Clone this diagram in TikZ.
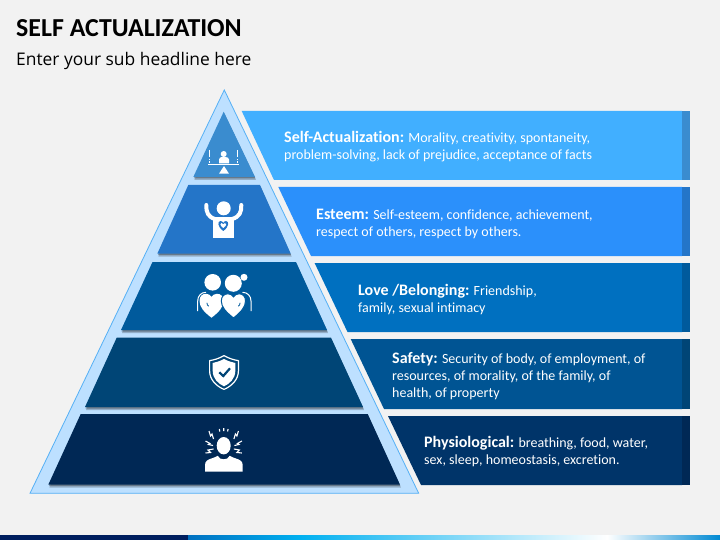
\documentclass[tikz,border=0pt]{standalone}
\usepackage{fontspec}
\setmainfont{Carlito}[Ligatures=NoCommon]
\newfontfamily\headfont{Open Sans}
\usetikzlibrary{shadows}
\newcommand{\tierhead}[1]{{\fontsize{16}{17}\selectfont\bfseries #1}}
\definecolor{pagebg}{HTML}{F2F2F2}
\definecolor{pyrfill}{HTML}{BDE0FF}
\definecolor{pyrline}{HTML}{55B0F5}
\definecolor{tierA}{HTML}{3A8CCF}
\definecolor{tierB}{HTML}{2475C8}
\definecolor{tierC}{HTML}{005A9C}
\definecolor{tierD}{HTML}{004576}
\definecolor{tierE}{HTML}{002855}
\definecolor{bandA}{HTML}{41AFFF}
\definecolor{bandB}{HTML}{2B90FB}
\definecolor{bandC}{HTML}{0070C0}
\definecolor{bandD}{HTML}{005493}
\definecolor{bandE}{HTML}{003469}
\definecolor{barA}{HTML}{001F5F}
\definecolor{barB}{HTML}{0070C0}
\definecolor{barC}{HTML}{00B0F0}
\begin{document}
\begin{tikzpicture}[x=1pt, y=-1pt,
        tier/.style={drop shadow={shadow xshift=1pt, shadow yshift=-3pt, fill=black, opacity=.22},
                drop shadow={shadow xshift=.5pt, shadow yshift=-1.5pt, fill=black, opacity=.3}},
        info/.style={anchor=north west, align=left, inner sep=0pt, text=white,
                font=\fontsize{14}{17}\selectfont},
        icon/.style={fill=white, draw=none},
        stroke/.style={draw=white, line width=#1, line cap=round, line join=round}]
        \useasboundingbox (0,0) rectangle (720,540);
        \fill[pagebg] (0,0) rectangle (720,540);

        \node (title) [anchor=base west, inner sep=0pt, font=\bfseries\fontsize{25.9}{30}\selectfont, text=black] at (16,36.5) {SELF ACTUALIZATION};
        \node (subtitle) [anchor=base west, inner sep=0pt, font=\headfont\fontsize{17.4}{21}\selectfont, text=black] at (16,66) {Enter your sub headline here};

        \fill[bandA] (241.7,111) -- (682,111) -- (682,180) -- (274,180) -- cycle;
        \fill[tierA] (682,111) rectangle (690,180);
        \fill[bandB] (278.3,187) -- (682,187) -- (682,256) -- (311,256) -- cycle;
        \fill[tierB] (682,187) rectangle (690,256);
        \fill[bandC] (314.6,263) -- (682,263) -- (682,332) -- (347.5,332) -- cycle;
        \fill[tierC] (682,263) rectangle (690,332);
        \fill[bandD] (350.7,339) -- (682,339) -- (682,409) -- (384,409) -- cycle;
        \fill[tierD] (682,339) rectangle (690,409);
        \fill[bandE] (388,416) -- (682,416) -- (682,485) -- (421,485) -- cycle;
        \fill[tierE] (682,416) rectangle (690,485);

        \filldraw[fill=pyrfill, draw=pyrline, line width=.8pt] (224.3,90) -- (418.7,493.3) -- (30,493.3) -- cycle;

        \fill[tierA, tier] (223.7,111.7) -- (255,177) -- (193.3,177) -- cycle;
        \fill[tierB, tier] (188.3,185) -- (260,185) -- (290.7,253.7) -- (157.3,253.7) -- cycle;
        \fill[tierC, tier] (152.5,262) -- (296,262) -- (327,330) -- (121,330) -- cycle;
        \fill[tierD, tier] (116.7,337.7) -- (331,337.7) -- (363,407) -- (85,407) -- cycle;
        \fill[tierE, tier] (80.7,414) -- (367.7,414) -- (400,484.7) -- (48.3,484.7) -- cycle;

        \fill[barA] (0,535) rectangle (188,540);
        \shade[left color=barB, right color=barC] (188,535) rectangle (300,540);
        \shade[left color=barC, right color=white] (300,535) rectangle (607,540);
        \shade[left color=white, right color=barB!60!barC] (607,535) rectangle (720,540);

        \node (selfact) [info] at (284,131) {\tierhead{Self-Actualization:} Morality, creativity, spontaneity,\\problem-solving, lack of prejudice, acceptance of facts};
        \node (esteem) [info] at (316,208.5) {\tierhead{Esteem:} Self-esteem, confidence, achievement,\\respect of others, respect by others.};
        \node (love) [info] at (358,284) {\tierhead{Love /Belonging:} Friendship,\\family, sexual intimacy};
        \node (safety) [info] at (392,352.5) {\tierhead{Safety:} Security of body, of employment, of\\resources, of morality, of the family, of\\health, of property};
        \node (physio) [info] at (424,436) {\tierhead{Physiological:} breathing, food, water,\\sex, sleep, homeostasis, excretion.};

        \fill[icon] (223.7,154) circle (3);
        \fill[icon] (219,163.3) -- (219,159.5) .. controls (219,158) and (220.5,157) .. (222,157) -- (225.4,157) .. controls (227.5,157) and (229,158) .. (229,159.5) -- (229,163.3) -- cycle;
        \draw[stroke=.8pt, line cap=butt] (208.3,164.5) -- (239.3,164.5);
        \fill[icon] (224,166) -- (229,173.7) -- (219,173.7) -- cycle;
        \draw[stroke=.6pt, line cap=butt] (209.7,150) -- (209.7,157) (209.7,159) -- (209.7,160) (209.7,161.5) -- (209.7,163);
        \draw[stroke=.6pt, line cap=butt] (237.7,150) -- (237.7,157) (237.7,159) -- (237.7,160) (237.7,161.5) -- (237.7,163);

        \fill[icon] (223.7,208.3) circle (7);
        \fill[icon] (213.3,237.7) -- (213.3,217) -- (233.7,217) -- (233.7,237.7) -- cycle;
        \draw[stroke=4pt] (206.3,205) .. controls (206,212) and (208,217) .. (215,219);
        \draw[stroke=4pt] (241.3,205) .. controls (241.6,212) and (239.6,217) .. (232,219);
        \fill[tierB] (223.3,231) .. controls (217,226.5) and (217.5,221) .. (220.5,221) .. controls (222,221) and (223,222) .. (223.3,223) .. controls (223.6,222) and (224.6,221) .. (226,221) .. controls (229,221) and (229.6,226.5) .. (223.3,231) -- cycle;
        \fill[icon] (223.3,228) .. controls (219.5,225.5) and (220,223) .. (221.5,223) .. controls (222.4,223) and (223,223.6) .. (223.3,224.3) .. controls (223.6,223.6) and (224.2,223) .. (225,223) .. controls (226.6,223) and (227,225.5) .. (223.3,228) -- cycle;

        \fill[icon] (212.7,282.3) circle (8.3);
        \fill[icon] (233.3,283.3) circle (8.5);
        \fill[icon] (244,277.3) circle (3.5);
        \draw[stroke=1pt, line cap=butt] (197.7,311) -- (197.7,301) .. controls (197.7,296) and (201,292.3) .. (206,292.3);
        \draw[stroke=1pt, line cap=butt] (251,311) -- (251,301) .. controls (251,296) and (247.5,292.3) .. (242.5,292.3);
        \fill[icon] (211.5,317.7) .. controls (204,312) and (199.5,307) .. (199.5,301) .. controls (199.5,296) and (202.5,293.8) .. (206,293.8) .. controls (208.5,293.8) and (210.5,295) .. (211.5,297) .. controls (212.5,295) and (214.5,293.8) .. (217,293.8) .. controls (220.5,293.8) and (223.5,296) .. (223.5,301) .. controls (223.5,307) and (219,312) .. (211.5,317.7) -- cycle;
        \fill[icon, draw=tierC, line width=1pt] (233.5,318) .. controls (226,312) and (221.3,307) .. (221.3,301) .. controls (221.3,296) and (224.5,293.8) .. (228,293.8) .. controls (230.5,293.8) and (232.5,295) .. (233.5,297) .. controls (234.5,295) and (236.5,293.8) .. (239,293.8) .. controls (242.5,293.8) and (245.5,296) .. (245.5,301) .. controls (245.5,307) and (241,312) .. (233.5,318) -- cycle;
        \draw[tierC, line width=.8pt, line cap=round] (207,303) .. controls (207,304.5) and (207.5,305.5) .. (208.5,306) (240,303) .. controls (240,304.5) and (239.5,305.5) .. (238.5,306);

        \draw[stroke=1.2pt, line cap=butt, miter limit=4] (224,355.6) .. controls (229,358.5) and (234,360) .. (238.4,360.6) -- (238.4,371) .. controls (238.4,380) and (231,386.5) .. (224,389.4) .. controls (217,386.5) and (209.6,380) .. (209.6,371) -- (209.6,360.6) .. controls (214,360) and (219,358.5) .. (224,355.6) -- cycle;
        \fill[icon] (224,359) .. controls (228,361) and (231.5,362.3) .. (235.3,363) -- (235.3,371) .. controls (235.3,378.5) and (229.5,384) .. (224,386.3) .. controls (218.5,384) and (212.7,378.5) .. (212.7,371) -- (212.7,363) .. controls (216.5,362.3) and (220,361) .. (224,359) -- cycle;
        \draw[tierD, line width=2.2pt, line cap=butt, line join=miter] (219.3,372.3) -- (223.3,376) -- (230,368.3);

        \fill[icon] (223.7,445.7) ellipse (7 and 8.7);
        \fill[icon] (205,471.7) -- (205,465) .. controls (205,461) and (208,459.5) .. (212,458.3) .. controls (214,457.5) and (216,457) .. (217.8,455.8) .. controls (219,458.5) and (221,459.3) .. (223.7,459.3) .. controls (226.4,459.3) and (228.4,458.5) .. (229.6,455.8) .. controls (231.4,457) and (233.4,457.5) .. (235.4,458.3) .. controls (239.4,459.5) and (242.7,461) .. (242.7,465) -- (242.7,471.7) -- cycle;
        \draw[stroke=1.1pt, line cap=butt, line join=miter] (219.3,429) -- (219.8,431.5) (223.7,428) -- (223.7,431) (228.1,429) -- (227.6,431.5);
        \draw[stroke=1.1pt, line cap=butt, line join=miter] (209,431) -- (210.5,436) -- (212,434) -- (213.5,439);
        \draw[stroke=1.1pt, line cap=butt, line join=miter] (205.5,441) -- (210,443.5) -- (208.5,444.5) -- (213,445.5);
        \draw[stroke=1.1pt, line cap=butt, line join=miter] (205.5,453) -- (210.5,452.5) -- (208,450) -- (213.5,449);
        \draw[stroke=1.1pt, line cap=butt, line join=miter] (238.4,431) -- (236.9,436) -- (235.4,434) -- (233.9,439);
        \draw[stroke=1.1pt, line cap=butt, line join=miter] (241.9,441) -- (237.4,443.5) -- (238.9,444.5) -- (234.4,445.5);
        \draw[stroke=1.1pt, line cap=butt, line join=miter] (241.9,453) -- (236.9,452.5) -- (239.4,450) -- (233.9,449);

        \end{tikzpicture}
\end{document}
